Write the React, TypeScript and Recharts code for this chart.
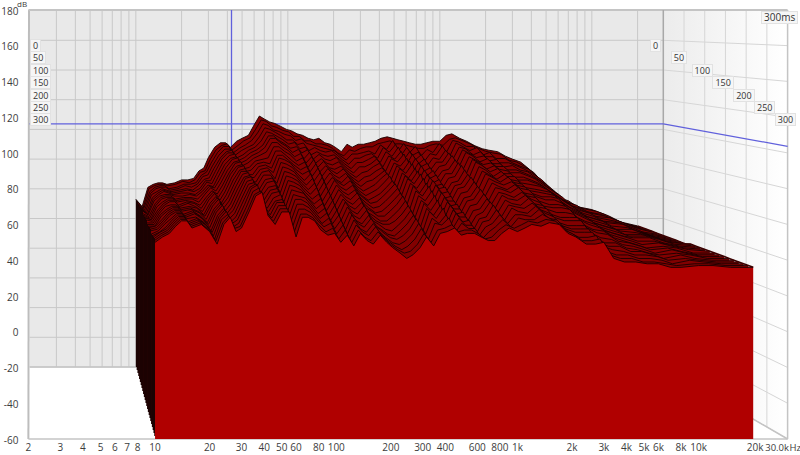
import React from 'react';
import { ComposedChart, Area, Line, XAxis, YAxis, ReferenceLine, ReferenceArea } from 'recharts';

const freqs = [10,11,12,13,14,15,16,18,20,22,24,26,28,30,33,36,39,42,46,50,55,60,65,70,76,82,90,98,106,115,125,136,148,160,175,190,205,225,245,265,290,315,345,375,410,450,490,530,580,630,690,750,820,900,1000,1100,1200,1350,1500,1700,1900,2100,2400,2700,3000,3400,3900,4500,5200,6000,7000,8000,10000,12000,15000,20000];

// one row per time slice, back (0 ms) to front (300 ms), 12.5 ms apart, dB
const slices = [
  [53,48,61,63,64,64,63,64,66,66,67,72,74,81,88,91,91,88,92,94,96,103,109,107,105,104,102,100,99,97,96,94,93,94,91,90,88,85,90,88,90,90,91,92,94,95,94,93,92,91,90,90,91,92,92,96,97,94,92,89,87,86,85,82,80,78,73,66,57,54,52,48,46,43,38,35],
  [53,48,61,63,64,64,63,64,66,65,67,72,73,80,87,90,91,87,90,93,95,101,107,106,103,102,100,99,96,96,93,93,91,91,90,88,85,83,87,86,88,89,89,91,92,93,91,91,90,89,88,88,90,91,90,94,95,93,91,88,86,85,84,80,79,76,72,65,57,53,51,48,46,43,38,35],
  [52,49,60,63,64,64,62,63,65,65,66,71,73,79,86,90,90,86,89,91,94,99,105,104,101,100,98,97,94,95,92,91,90,89,88,87,84,81,85,85,86,87,85,91,88,94,87,92,86,90,84,88,86,92,86,94,93,90,90,84,86,82,82,79,77,75,70,64,56,53,51,47,45,42,38,35],
  [52,49,60,63,64,64,62,63,65,64,66,71,72,78,85,89,89,85,88,90,92,97,103,102,100,98,95,95,92,93,88,90,88,87,88,85,82,79,83,83,85,86,83,90,87,92,85,90,85,87,81,86,85,91,84,93,91,88,90,84,84,80,80,78,76,73,69,63,55,52,50,47,45,42,38,35],
  [52,49,60,62,64,63,62,63,64,63,66,70,71,77,84,88,89,84,86,89,91,95,101,100,98,96,93,94,90,91,86,88,86,85,86,83,80,77,81,81,83,85,81,88,85,91,83,88,83,86,79,84,83,89,83,91,90,86,88,82,83,78,79,76,75,71,67,62,54,52,49,46,45,42,38,35],
  [53,49,59,62,64,63,62,63,64,63,65,70,70,76,84,88,88,83,85,88,90,93,99,99,96,94,91,92,88,90,84,87,84,83,85,81,78,75,79,79,81,84,79,86,84,89,81,87,81,84,77,82,82,88,81,90,88,85,86,81,81,77,77,75,73,70,65,61,54,51,49,46,44,41,37,35],
  [53,49,59,62,64,63,62,63,63,62,65,70,69,75,83,87,88,82,84,87,89,92,98,98,95,93,89,91,85,89,82,85,82,81,83,79,76,73,76,77,80,82,77,85,83,88,79,85,80,82,75,80,81,87,80,89,87,83,85,80,80,76,76,74,72,68,64,60,53,50,48,45,44,41,37,35],
  [53,50,59,62,63,63,62,62,63,62,65,69,68,74,82,86,87,81,83,86,88,90,96,96,93,91,87,89,83,87,80,84,80,79,81,77,74,71,74,75,78,80,75,83,81,86,77,83,78,80,73,78,79,85,78,87,85,82,83,79,78,74,74,72,70,66,62,58,52,49,47,45,44,40,37,35],
  [52,50,58,62,63,63,61,62,62,61,65,69,68,73,81,86,87,80,81,85,86,87,94,94,91,89,85,87,81,86,78,82,79,77,80,76,72,69,72,73,76,79,73,82,79,85,75,82,76,79,71,77,77,84,76,86,84,80,82,77,77,73,73,71,69,65,61,57,51,49,47,44,43,40,37,35],
  [52,50,58,62,63,63,61,62,62,60,65,69,67,72,80,85,86,79,80,84,85,84,92,92,89,86,83,85,79,84,76,81,77,75,78,74,70,67,69,71,75,78,71,81,78,84,73,80,75,77,69,75,76,83,75,85,83,79,81,76,76,72,71,70,68,64,60,56,50,48,46,43,43,40,37,35],
  [52,50,58,61,63,63,61,62,61,59,64,68,66,71,79,85,86,78,78,83,84,82,90,90,87,84,81,83,77,82,74,79,75,73,77,72,68,65,67,69,73,77,69,79,76,82,71,78,73,75,67,73,74,81,73,83,81,77,80,75,74,70,69,68,67,62,58,55,49,47,45,43,42,40,37,35],
  [52,51,57,61,63,63,60,62,61,58,64,68,65,70,79,84,85,77,77,82,83,80,89,88,86,82,79,81,75,80,72,77,74,72,75,70,66,63,65,67,71,75,68,78,75,81,69,77,72,73,65,72,73,79,72,81,79,76,79,74,73,69,68,67,66,61,57,54,49,47,45,42,42,40,37,36],
  [52,51,57,61,63,63,60,62,60,57,64,68,64,69,78,84,85,76,75,81,82,77,87,86,84,80,76,80,72,78,69,76,72,70,73,68,65,62,63,66,70,74,67,77,74,80,68,76,71,72,64,71,72,78,71,80,78,75,78,73,72,68,66,66,65,59,56,53,48,46,44,42,42,40,37,36],
  [51,51,57,61,62,62,60,61,60,56,63,67,63,68,77,83,84,75,74,80,80,75,85,84,82,78,74,78,70,76,67,74,70,68,71,66,63,60,61,64,68,72,65,75,72,78,66,74,69,70,62,69,70,76,69,78,76,74,76,72,71,67,65,65,63,58,55,52,47,45,43,42,42,39,37,36],
  [51,51,57,60,62,62,60,61,59,56,63,67,63,67,76,83,83,74,72,78,79,73,83,82,80,76,72,76,68,74,65,72,68,66,70,64,61,58,59,62,66,70,63,74,70,76,64,72,67,68,60,67,68,74,68,76,74,72,75,70,69,65,63,63,62,56,53,51,47,45,43,41,41,39,37,36],
  [51,51,57,60,62,62,60,61,59,55,63,67,62,66,75,82,83,73,71,77,78,71,81,80,78,74,70,74,66,72,63,70,66,64,68,62,60,57,57,60,64,69,61,72,69,75,63,71,66,66,59,66,67,73,66,74,73,71,74,69,68,63,62,62,61,55,52,50,46,44,42,40,41,39,37,36],
  [51,52,56,60,62,62,59,61,58,54,62,66,61,65,74,81,82,72,70,75,76,69,79,78,76,72,68,71,64,70,61,68,64,62,66,60,58,55,55,58,62,67,59,70,67,73,61,69,64,65,57,64,65,71,65,72,71,69,72,68,66,62,60,60,59,53,50,49,45,43,41,39,40,39,36,36],
  [51,52,56,60,62,62,59,61,58,54,62,66,60,64,73,81,82,71,68,74,75,67,77,76,74,70,66,69,62,68,59,67,62,60,65,59,56,54,54,56,60,65,58,68,65,71,59,67,63,63,55,62,63,69,63,71,69,68,71,66,65,60,58,58,58,52,49,48,44,43,41,39,40,38,36,36],
  [51,52,56,60,62,62,59,61,58,53,62,66,60,63,72,80,81,70,67,73,74,65,75,74,73,69,64,67,60,66,57,65,60,58,63,57,55,52,51,54,58,63,56,67,63,69,58,66,61,62,54,60,62,68,62,69,67,66,70,65,64,59,57,57,57,50,47,46,43,42,40,38,40,38,36,36],
  [50,52,56,59,62,62,59,60,57,52,61,65,59,62,71,79,80,69,65,71,73,63,73,72,71,67,62,65,58,64,55,63,58,56,61,55,53,50,49,52,56,61,54,65,61,67,56,64,60,60,52,59,60,67,60,67,66,65,68,64,62,57,55,55,55,48,45,45,42,41,39,38,39,38,36,36],
  [50,52,55,59,62,62,58,60,57,52,61,65,58,61,70,78,80,68,64,70,71,61,71,71,69,65,60,63,57,62,53,62,57,55,60,55,52,49,48,50,54,60,53,64,60,66,55,63,58,59,51,58,59,65,59,66,64,63,67,63,61,56,54,54,54,46,44,44,41,41,39,37,39,37,36,36],
  [50,53,55,59,62,62,58,60,57,51,61,65,58,60,69,78,80,67,63,70,70,59,69,69,67,63,58,61,55,60,52,60,55,53,58,53,50,47,46,48,52,58,52,61,58,63,55,61,57,57,51,56,58,63,58,63,63,62,66,61,60,55,53,53,53,45,43,42,40,40,39,37,38,37,36,36],
  [50,53,55,59,62,62,58,60,56,50,61,64,57,59,68,77,79,66,62,69,69,57,67,67,65,61,57,59,53,58,50,58,54,52,57,52,49,46,44,46,50,56,50,59,58,62,54,59,56,56,50,54,57,61,57,62,61,61,64,61,58,54,51,51,52,43,41,41,39,39,38,36,38,37,36,36],
  [50,53,55,59,62,62,58,60,56,50,60,64,57,58,67,76,78,65,61,68,68,55,65,65,63,59,55,57,51,56,49,56,52,50,55,51,48,45,43,44,48,54,49,56,57,59,55,56,56,54,51,52,56,59,57,59,61,60,62,61,56,54,50,50,51,42,40,40,38,38,37,36,37,37,36,36],
  [50,53,55,59,62,62,58,60,56,49,60,64,56,58,67,76,78,65,60,67,67,53,64,64,62,57,54,55,50,54,48,55,51,49,54,50,47,44,41,43,47,53,48,55,56,58,54,55,55,53,51,51,55,58,56,58,60,59,61,60,55,53,49,49,50,41,39,39,38,38,36,36,37,37,36,36],
];

const dbTicks = [-60,-40,-20,0,20,40,60,80,100,120,140,160,180];
const freqTicks = [2,3,4,5,6,7,8,10,20,30,40,50,60,80,100,200,300,400,600,800,1000,2000,3000,4000,5000,6000,8000,10000,20000,30000];
const gridFreqs = [3,4,5,6,7,8,9,10,20,30,40,50,60,70,80,90,100,200,300,400,500,600,700,800,900,1000,2000,3000,4000,5000,6000,7000,8000,9000,10000,20000];
const zLabels = ['0','50','100','150','200','250','300'];

const L = 28.4, R = 787.6, T = 10, B = 439;
const WALL_X = 663.3;

// perspective: t=0 is the back wall, t=1 the front plane
const originAt = (t: number) => 29.6 - 1.2 * t;
const decadeAt = (t: number) => 152 + 29.2 * t;
const floorAt = (t: number) => 367 + 72 * t;
const dbPxAt = (t: number) => 1.485 + 0.303 * t;
const xAt = (t: number, f: number) => originAt(t) + decadeAt(t) * Math.log10(f / 2);
const yAt = (t: number, db: number) => floorAt(t) - (db + 60) * dbPxAt(t);

const xDomainAt = (t: number): [number, number] => [
  2 * Math.pow(10, (L - originAt(t)) / decadeAt(t)),
  2 * Math.pow(10, (R - originAt(t)) / decadeAt(t)),
];
const yDomainAt = (t: number): [number, number] => [
  -60 - (B - floorAt(t)) / dbPxAt(t),
  -60 + (floorAt(t) - T) / dbPxAt(t),
];

const rows = freqs.map((f, i) => {
  const row: Record<string, number> = { f };
  slices.forEach((s, k) => { row[`s${k}`] = s[i]; });
  return row;
});
const sideWall = [{ x: WALL_X, wall: [floorAt(0), yAt(0, 180)] }, { x: R, wall: [B, T] }];
// far end of every slice, the sloping right edge of the surface
const rightEdge = slices.map((s, k) => {
  const t = k / (slices.length - 1);
  return { ex: xAt(t, 20000), ey: yAt(t, s[s.length - 1]) };
});

const margin = { top: T, right: 800 - R, bottom: 16, left: L };
const tickStyle = { fontSize: 10, fill: '#3c3c3c', fontFamily: 'Open Sans' };
const GRID = '#c8c8c8';
const SIDE = '#d6d6d6';
const CURSOR = '#6060dc';
const formatFreq = (f: number) => (f === 30000 ? '30.0k' : f >= 1000 ? `${f / 1000}k` : `${f}`);

const FreqTick = ({ x, y, payload }: { x: number; y: number; payload: { value: number } }) => (
  <text x={payload.value === 30000 ? x - 8 : x + (payload.value === 20000 ? 2 : 0)} y={451} textAnchor="middle" fontSize={payload.value === 30000 ? 9.5 : 10} fill="#3c3c3c" fontFamily="Open Sans">
    {formatFreq(payload.value)}
  </text>
);

function Walls() {
  return (
    <ComposedChart width={800} height={455} data={sideWall} margin={{ top: T, right: 800 - R, bottom: 0, left: 0 }} style={{ position: 'absolute', left: 0, top: 0 }}>
      <defs>
        <linearGradient id="sideFill" x1="0" y1="0" x2="1" y2="0">
          <stop offset="0%" stopColor="#ececec" />
          <stop offset="100%" stopColor="#ffffff" />
        </linearGradient>
      </defs>
      <XAxis xAxisId="front" dataKey="x" type="number" scale="log" domain={xDomainAt(1)} ticks={freqTicks} interval={0} height={16} tick={FreqTick as any} axisLine={false} tickLine={false} allowDataOverflow />
      <YAxis yAxisId="front" type="number" domain={[-60, 180]} ticks={dbTicks} interval={0} width={L} tick={{ ...tickStyle, dy: 1 }} axisLine={false} tickLine={false} tickMargin={4} allowDataOverflow />
      <XAxis xAxisId="px" dataKey="x" type="number" domain={[L, R]} hide />
      <YAxis yAxisId="px" type="number" domain={[T, B]} reversed hide />
      <Area xAxisId="front" yAxisId="front" dataKey="unused" fill="none" stroke="none" isAnimationActive={false} />
      <ReferenceArea xAxisId="px" yAxisId="px" x1={originAt(0)} x2={WALL_X} y1={T} y2={floorAt(0)} fill="#e9e9e9" fillOpacity={1} stroke="none" />
      <Area xAxisId="px" yAxisId="px" dataKey="wall" type="linear" fill="url(#sideFill)" fillOpacity={1} stroke="none" isAnimationActive={false} />
      {gridFreqs.map((f) => (
        <ReferenceLine key={`f${f}`} xAxisId="px" yAxisId="px" stroke={GRID} segment={[{ x: xAt(0, f), y: T }, { x: xAt(0, f), y: floorAt(0) }]} />
      ))}
      {dbTicks.slice(0, -1).map((db) => (
        <ReferenceLine key={`b${db}`} xAxisId="px" yAxisId="px" stroke={GRID} segment={[{ x: originAt(0), y: yAt(0, db) }, { x: WALL_X, y: yAt(0, db) }]} />
      ))}
      {dbTicks.slice(0, -1).map((db) => (
        <ReferenceLine key={`s${db}`} xAxisId="px" yAxisId="px" stroke={SIDE} segment={[{ x: WALL_X, y: yAt(0, db) }, { x: R, y: yAt(1, db) }]} />
      ))}
      {zLabels.slice(1, -1).map((z, i) => {
        const t = (i + 1) / 6;
        const x = WALL_X + (R - WALL_X) * t;
        return <ReferenceLine key={`z${z}`} xAxisId="px" yAxisId="px" stroke={SIDE} segment={[{ x, y: T }, { x, y: floorAt(0) + (B - floorAt(0)) * t }]} />;
      })}
      <ReferenceLine xAxisId="px" yAxisId="px" stroke="#bdbdbd" strokeWidth={2} segment={[{ x: L + 0.6, y: T }, { x: L, y: B }]} />
      <ReferenceLine xAxisId="px" yAxisId="px" stroke="#c4c4c4" strokeWidth={2} segment={[{ x: L, y: T }, { x: R, y: T }]} />
      <ReferenceLine xAxisId="px" yAxisId="px" stroke="#a8a8a8" strokeWidth={1.5} segment={[{ x: WALL_X, y: T }, { x: WALL_X, y: floorAt(0) }]} />
      <ReferenceLine xAxisId="px" yAxisId="px" stroke="#c4c4c4" strokeWidth={1.5} segment={[{ x: R, y: T }, { x: R, y: B }]} />
      <ReferenceLine xAxisId="px" yAxisId="px" stroke="#c4c4c4" strokeWidth={1.5} segment={[{ x: L, y: B }, { x: R, y: B }]} />
      <ReferenceLine xAxisId="px" yAxisId="px" stroke="#c4c4c4" strokeWidth={1.5} segment={[{ x: WALL_X, y: floorAt(0) }, { x: R, y: B }]} />
      <ReferenceLine xAxisId="px" yAxisId="px" stroke="#c4c4c4" strokeWidth={1.5} segment={[{ x: originAt(0), y: floorAt(0) }, { x: WALL_X, y: floorAt(0) }]} />
      <ReferenceLine xAxisId="px" yAxisId="px" stroke={CURSOR} strokeWidth={1.3} segment={[{ x: 231.5, y: T }, { x: 231.5, y: 200 }]} />
      <ReferenceLine xAxisId="px" yAxisId="px" stroke={CURSOR} strokeWidth={1.3} segment={[{ x: originAt(0), y: yAt(0, 103.7) }, { x: WALL_X, y: yAt(0, 103.7) }]} />
      <ReferenceLine xAxisId="px" yAxisId="px" stroke={CURSOR} strokeWidth={1.3} segment={[{ x: WALL_X, y: yAt(0, 103.7) }, { x: R, y: yAt(1, 103.7) }]} />
    </ComposedChart>
  );
}

function Surface() {
  const last = slices.length - 1;
  const edge = (xAt(1, 10) - xAt(0, 10)) / last + 0.3;
  return (
    <ComposedChart width={800} height={455} data={rows} margin={margin} style={{ position: 'absolute', left: 0, top: 0 }}>
      <defs>
        {slices.map((_, k) => {
          const x = xAt(k / last, 10);
          return (
            <linearGradient key={k} id={`edge${k}`} gradientUnits="userSpaceOnUse" x1={x} y1={0} x2={x + edge} y2={0}>
              <stop offset="0%" stopColor="#1c0202" />
              <stop offset="99%" stopColor="#1c0202" />
              <stop offset="100%" stopColor="#820000" />
            </linearGradient>
          );
        })}
      </defs>
      {slices.map((_, k) => (
        <XAxis key={k} xAxisId={`x${k}`} dataKey="f" type="number" scale="log" domain={xDomainAt(k / last)} allowDataOverflow hide />
      ))}
      {slices.map((_, k) => (
        <YAxis key={k} yAxisId={`y${k}`} type="number" domain={yDomainAt(k / last)} allowDataOverflow hide />
      ))}
      <XAxis xAxisId="px" dataKey="ex" type="number" domain={[L, R]} allowDataOverflow hide />
      <YAxis yAxisId="px" type="number" domain={[T, B]} reversed allowDataOverflow hide />
      {slices.map((_, k) => (
        <Area
          key={k}
          xAxisId={`x${k}`}
          yAxisId={`y${k}`}
          dataKey={`s${k}`}
          type="linear"
          baseValue={-60}
          fill={k === last ? '#b00000' : `url(#edge${k})`}
          fillOpacity={1}
          stroke="#160000"
          strokeWidth={0.9}
          dot={false}
          isAnimationActive={false}
        />
      ))}
      <Line xAxisId="px" yAxisId="px" data={rightEdge} dataKey="ey" type="linear" stroke="#3a0000" strokeWidth={1.6} dot={false} isAnimationActive={false} />
    </ComposedChart>
  );
}

const boxStyle: React.CSSProperties = { position: 'absolute', background: '#f6f6f6', border: '1px solid #e2e2e2', font: '9px "Open Sans"', color: '#333', padding: '0 2px', lineHeight: '11px', whiteSpace: 'nowrap' };

export default function App() {
  return (
    <div style={{ position: 'absolute', left: 0, top: 0, width: 800, height: 455, background: '#fff', overflow: 'hidden' }}>
      <Walls />
      <Surface />
      <div style={{ position: 'absolute', left: 17, top: 0, font: '8px "Open Sans"', lineHeight: '8px', color: '#3c3c3c' }}>dB</div>
      <div style={{ position: 'absolute', left: 789.5, top: 441, font: '9.5px "Open Sans"', color: '#3c3c3c' }}>Hz</div>
      <div style={{ ...boxStyle, left: 761, top: 11, fontSize: 10 }}>300ms</div>
      {zLabels.map((z, i) => (
        <div key={`l${z}`} style={{ ...boxStyle, left: 30, top: 39 + i * 12.4 }}>{z}</div>
      ))}
      {zLabels.map((z, i) => (
        <div key={`r${z}`} style={{ ...boxStyle, left: 650 + i * 20.8, top: 39 + i * 12.4 }}>{z}</div>
      ))}
    </div>
  );
}
